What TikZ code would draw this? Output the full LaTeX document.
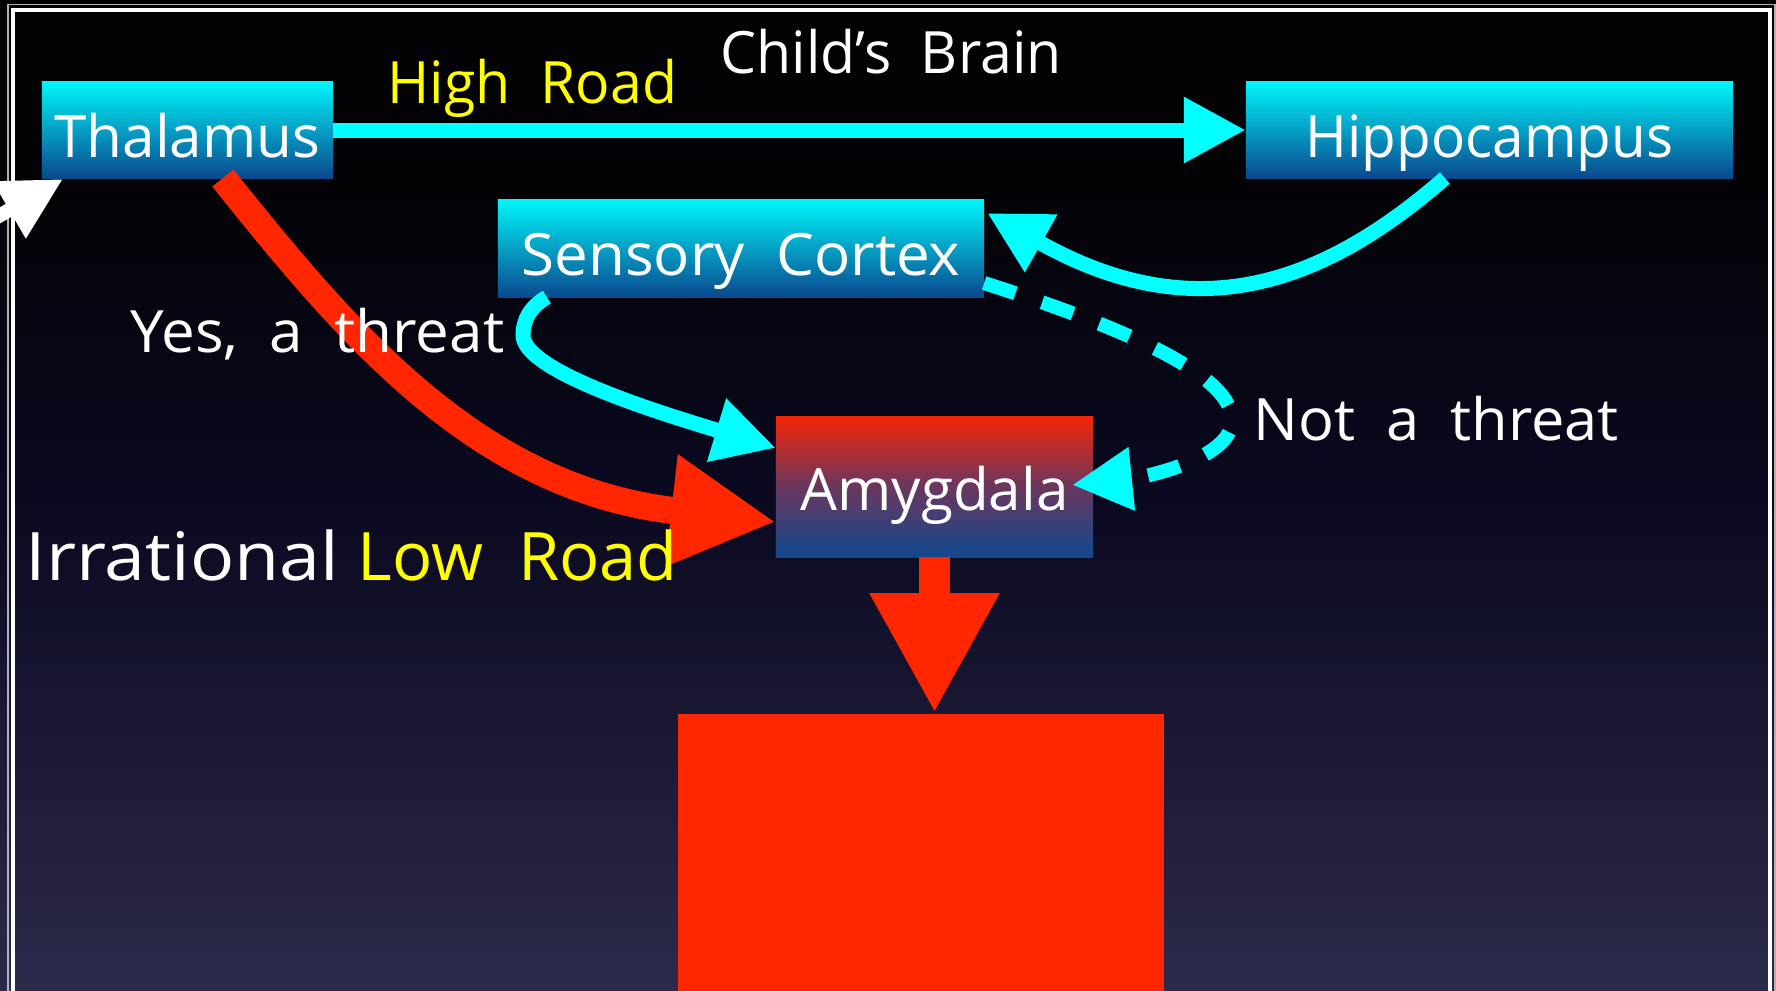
\documentclass[tikz,border=0pt]{standalone}
\usepackage{fontspec}
\setmainfont[WordSpace=2]{Open Sans}
\usetikzlibrary{arrows.meta,calc}
\definecolor{cy}{RGB}{0,255,255}
\definecolor{rd}{RGB}{255,38,0}
\definecolor{yl}{RGB}{255,255,0}
\definecolor{boxtop}{RGB}{0,245,250}
\definecolor{boxbot}{RGB}{10,72,142}
\definecolor{amytop}{RGB}{242,38,8}
\definecolor{amymid}{RGB}{105,55,95}
\definecolor{amybot}{RGB}{18,72,142}
\definecolor{bgbot}{RGB}{44,42,74}
\definecolor{bgmid}{RGB}{10,9,32}
\definecolor{bgtop}{RGB}{3,3,6}
\pgfdeclareverticalshading{bgshade}{100bp}{color(0bp)=(bgbot); color(25bp)=(bgbot); color(50bp)=(bgmid); color(66bp)=(bgtop); color(100bp)=(bgtop)}
\begin{document}
\begin{tikzpicture}[x=0.01cm,y=-0.01cm,
  bluebox/.style={inner sep=0pt, outer sep=0pt, top color=boxtop, bottom color=boxbot, draw=none},
  redbox/.style={inner sep=0pt, outer sep=0pt, top color=amytop, bottom color=amybot, middle color=amymid, draw=none},
  boxlbl/.style={inner sep=0pt, text=white, font=\fontsize{16.6pt}{20pt}\selectfont},
  plainlbl/.style={inner sep=0pt, anchor=base west, font=\fontsize{16.6pt}{20pt}\selectfont},
  biglbl/.style={inner sep=0pt, anchor=base west, font=\fontsize{19pt}{23pt}\selectfont},
  cyarrow/.style={draw=cy, line width=4.27pt, -{Triangle[length=6.2mm,width=6.2mm]}},
  dasharrow/.style={draw=cy, line width=4pt, dash pattern=on 3.3mm off 2.8mm, -{Triangle[length=6mm,width=6mm]}},
  lowarrow/.style={draw=rd, line width=7.7pt, -{Triangle[length=10.5mm,width=10.5mm]}},
  downarrow/.style={draw=rd, line width=8.8pt, -{Triangle[length=12mm,width=12.1mm]}},
  whitearrow/.style={draw=white, line width=4pt, -{Triangle[length=6.2mm,width=6.2mm]}}
]
\useasboundingbox (0,0) rectangle (1776,990);
\clip (0,0) rectangle (1776,990);
% background
\fill[shading=bgshade] (0,0) rectangle (1776,990);
% frame
\draw[gray!60, line width=0.4pt] (8,1100) -- (8,4.5) -- (1775,4.5) -- (1775,1100);
\draw[white, line width=0.9pt] (13,1100) -- (13,10) -- (1770,10) -- (1770,1100);

% boxes
\node[bluebox, minimum width=2.91cm, minimum height=0.96cm] (th) at (187.5,130) {};
\node[bluebox, minimum width=4.87cm, minimum height=0.96cm] (hip) at (1489.5,130) {};
\node[bluebox, minimum width=4.86cm, minimum height=0.97cm] (sc) at (741,248.5) {};
\node[redbox, minimum width=3.17cm, minimum height=1.40cm] (amy) at (934.5,487) {};
\node[fill=rd, inner sep=0pt, minimum width=4.86cm, minimum height=2.86cm] (big) at (921,857) {};

% connectors
\draw[cyarrow] (th.east) -- (hip.west);
\draw[cyarrow] ($(hip.south west)+(199,0)$) .. controls (1322,285) and (1195,330) .. ($(sc.north east)+(3,13)$);
\draw[cyarrow] ($(sc.south west)+(49,0)$) .. controls (530,307) and (523,320) .. (523,335)
   .. controls (523,370) and (650,410) .. ($(amy.north west)+(0,31)$);
\draw[lowarrow] ($(th.south west)+(181,0)$) .. controls (349,336) and (479,489) .. ($(amy.north west)+(0,105)$);
\draw[dasharrow] ($(sc.south east)+(0,-14)$) .. controls (1100,320) and (1232,370) .. (1232,420)
   .. controls (1232,460) and (1140,478) .. ($(amy.north east)+(-21,68)$);
\draw[downarrow] (amy.south) -- (amy.south |- big.north);

\coordinate (wstart) at (-100,273);
\coordinate (wtip) at (63,179);
\draw[whitearrow] (wstart) -- (wtip);

% box labels
\node[boxlbl, anchor=base] (thl) at ($(th.center)+(0,27)$) {Thalamus};
\node[boxlbl, anchor=base] (hipl) at ($(hip.center)+(0,27)$) {\scalebox{0.97}[1]{Hippocampus}};
\node[boxlbl, anchor=base] (scl) at ($(sc.center)+(0,26.5)$) {\scalebox{1.03}[1]{Sensory Cortex}};
\node[boxlbl, anchor=base] (amyl) at ($(amy.center)+(0,23)$) {Amygdala};

% free labels
\node[plainlbl, text=white] (title) at (720,73) {\scalebox{0.98}[1]{Child’s Brain}};
\node[plainlbl, text=yl] (high) at (387,103) {\scalebox{0.98}[1]{High Road}};
\node[plainlbl, text=white] (yes) at (130,352) {\scalebox{1.03}[1]{Yes, a threat}};
\node[plainlbl, text=white] (nota) at (1253,440) {\scalebox{1.02}[1]{Not a threat}};
\node[biglbl, text=white] (irr) at (25,580) {\scalebox{1.1}[1]{Irrational}};
\node[biglbl, text=yl] (low) at (357,580) {Low Road};
\end{tikzpicture}
\end{document}
